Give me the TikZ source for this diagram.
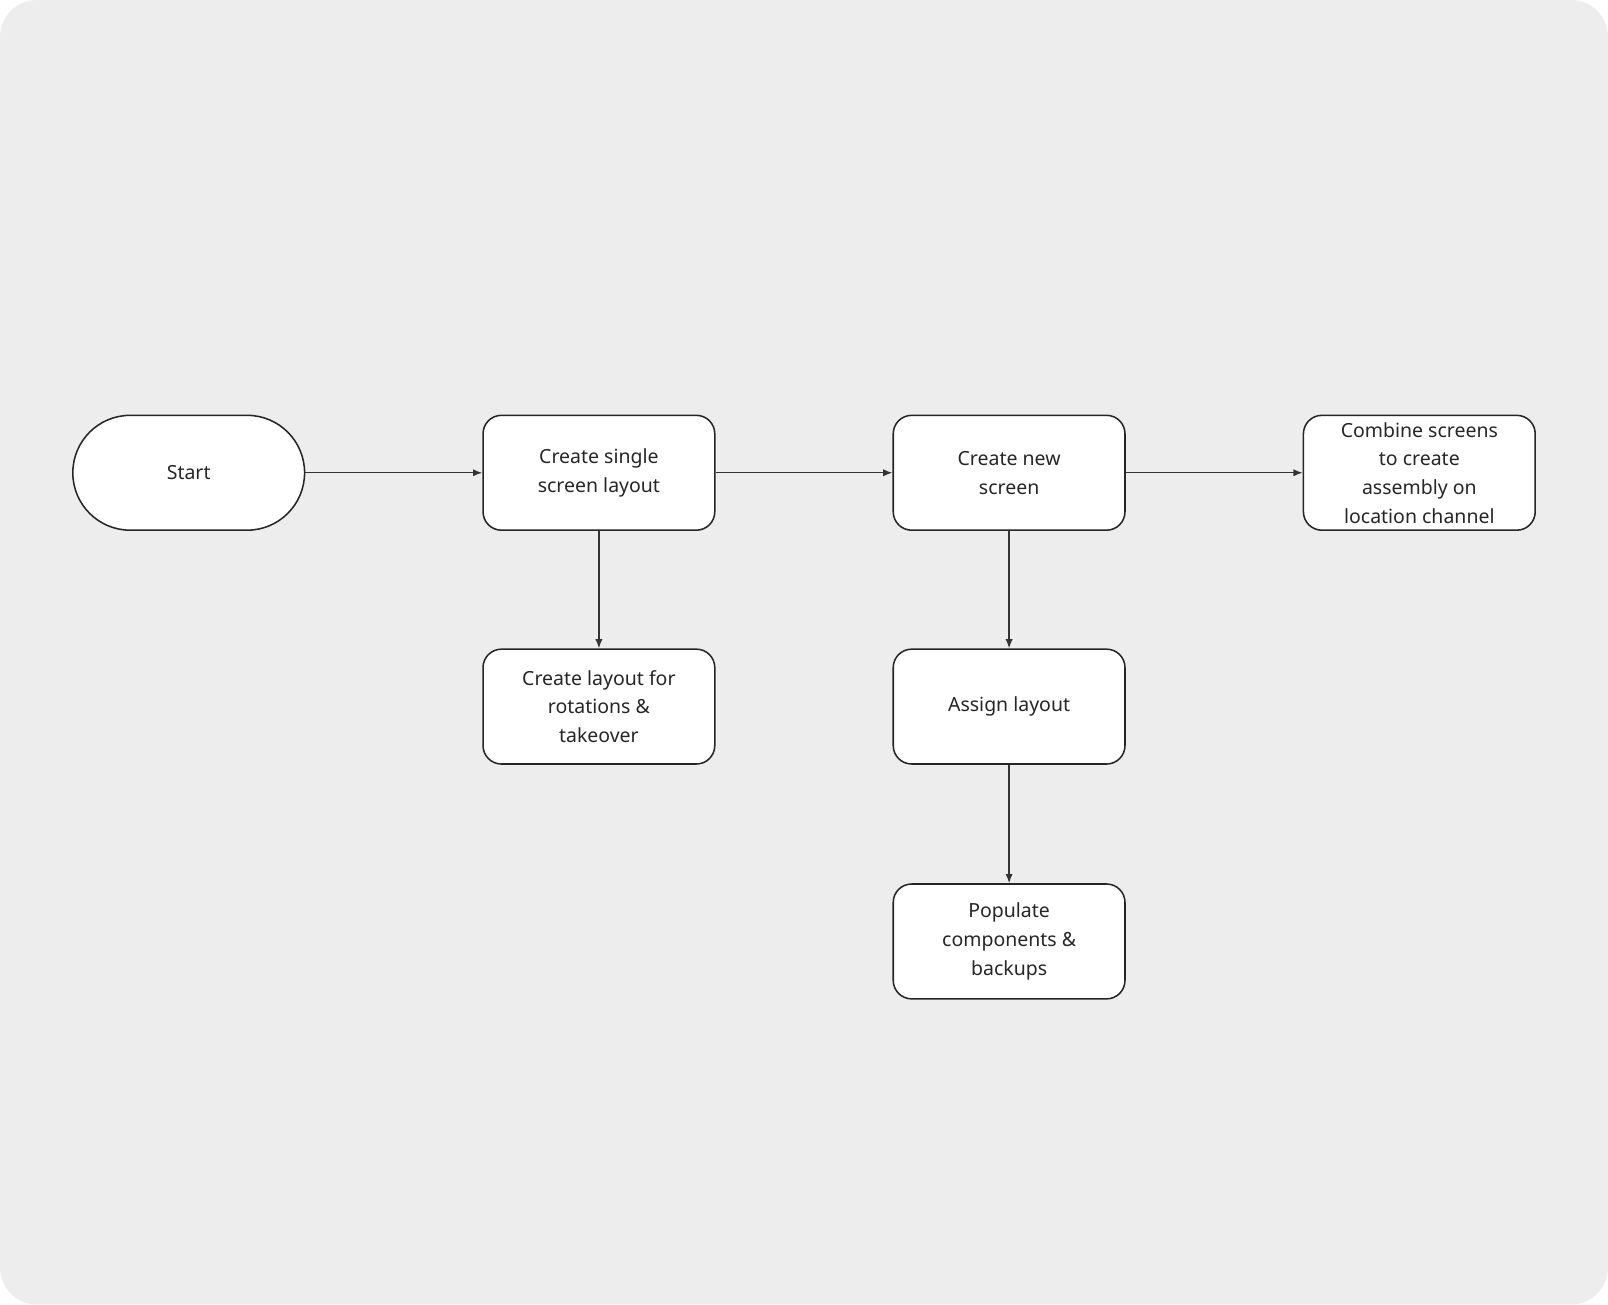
\documentclass[tikz,border=0pt]{standalone}
\usepackage{fontspec}
\setmainfont{Noto Sans}
\usetikzlibrary{arrows.meta}
\begin{document}
\begin{tikzpicture}[x=1pt,y=-1pt,
  box/.style={draw=black!85,line width=1.5pt,fill=white,rounded corners=18pt,minimum width=226pt,minimum height=112pt,align=center,font=\fontsize{19}{28}\selectfont,text=black!85},
  term/.style={box,rounded corners=56pt},
  arr/.style={draw=black!80,line width=1.3pt,-{Latex[length=9pt,width=7pt]}}]
\fill[rounded corners=36pt,fill=black!7] (0,0) rectangle (1568,1272);
\useasboundingbox (0,0) rectangle (1568,1272);
\node[term] (s) at (184,461) {Start};
\node[box] (a) at (584,461) {Create single\\screen layout};
\node[box] (b) at (984,461) {Create new\\screen};
\node[box] (c) at (1384,461) {Combine screens\\to create\\assembly on\\location channel};
\node[box] (d) at (584,689) {Create layout for\\rotations \&\\takeover};
\node[box] (e) at (984,689) {Assign layout};
\node[box] (f) at (984,918) {Populate\\components \&\\backups};
\draw[arr] (s) -- (a);
\draw[arr] (a) -- (b);
\draw[arr] (b) -- (c);
\draw[arr] (a) -- (d);
\draw[arr] (b) -- (e);
\draw[arr] (e) -- (f);
\end{tikzpicture}
\end{document}
